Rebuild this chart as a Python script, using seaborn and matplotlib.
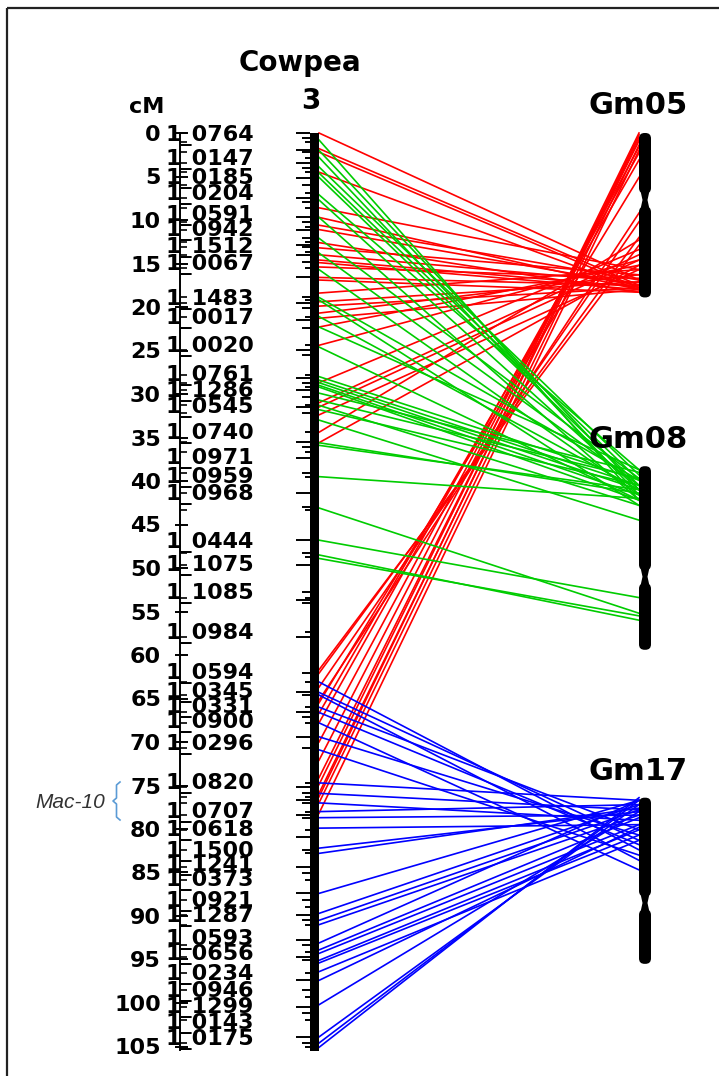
import matplotlib
matplotlib.use("Agg")
import matplotlib.pyplot as plt
from matplotlib.patches import FancyBboxPatch, Rectangle, Polygon
import numpy as np
import pandas as pd
import seaborn as sns

# ---------------- data ----------------
axis_ticks = list(range(0, 106, 5))

marker_names = ["1_0764", "1_0147", "1_0185", "1_0204", "1_0591", "1_0942", "1_1512", "1_0067",
                "1_1483", "1_0017", "1_0020", "1_0761", "1_1286", "1_0545", "1_0740", "1_0971",
                "1_0959", "1_0968", "1_0444", "1_1075", "1_1085", "1_0984", "1_0594", "1_0345",
                "1_0331", "1_0900", "1_0296", "1_0820", "1_0707", "1_0618", "1_1500", "1_1241",
                "1_0373", "1_0921", "1_1287", "1_0593", "1_0656", "1_0234", "1_0946", "1_1299",
                "1_0143", "1_0175"]
marker_label_pos = [0.0, 2.8, 4.9, 6.8, 9.2, 10.9, 12.9, 14.8, 18.9, 21.0, 24.3, 27.6, 29.4, 31.3,
                    34.3, 37.1, 39.3, 41.3, 46.8, 49.4, 52.6, 57.2, 61.8, 64.0, 65.7, 67.5, 70.0,
                    74.5, 77.8, 79.9, 82.3, 83.9, 85.6, 88.0, 89.8, 92.4, 94.1, 96.4, 98.4, 100.2,
                    102.1, 103.9]

marker_pos = [0.0, 0.6, 1.0, 2.0, 2.2, 2.9, 3.4, 4.0, 4.5, 5.2, 6.0, 6.9, 7.5, 7.9, 8.6, 9.7, 10.2,
              10.8, 11.1, 12.1, 12.5, 12.9, 13.1, 13.7, 14.0, 14.8, 15.5, 16.6, 18.9, 19.2, 19.5,
              20.1, 21.1, 21.5, 22.4, 24.4, 24.9, 25.5, 27.8, 28.2, 28.7, 29.2, 29.5, 30.3, 31.3,
              31.5, 32.2, 34.4, 35.5, 36.1, 36.7, 37.4, 39.1, 39.5, 41.4, 43.0, 43.3, 46.8, 48.3,
              48.7, 49.7, 52.8, 53.4, 53.7, 54.0, 57.4, 57.9, 62.1, 63.1, 64.3, 64.6, 66.0, 66.6,
              67.1, 67.8, 69.4, 70.7, 74.7, 75.2, 75.9, 76.3, 76.7, 77.0, 78.0, 78.4, 78.7, 80.1,
              80.9, 82.4, 82.8, 84.4, 85.1, 85.9, 87.4, 88.2, 89.0, 89.9, 90.5, 91.0, 92.8, 93.3,
              94.1, 94.7, 95.1, 96.6, 97.4, 98.5, 99.3, 100.5, 101.1, 102.0, 103.9, 104.6, 105.1]
cowpea_length = 105.5

# soybean chromosomes (top, centromere, bottom) on the shared vertical scale
gm_names = ["Gm05", "Gm08", "Gm17"]
gm_top = [0.0, 38.3, 76.4]
gm_cen = [7.7, 51.0, 88.5]
gm_bottom = [18.9, 59.4, 95.5]

# syntenic links: cowpea position -> soybean position
gm05_src = [0.0, 1.8, 2.2, 4.5, 8.6, 9.7, 10.6, 11.1, 12.6, 13.2, 14.0, 14.6, 14.9, 15.4, 16.6,
            16.9, 18.4, 19.4, 19.9, 20.7, 21.3, 22.3, 24.4, 28.7, 31.0, 31.5, 32.4, 34.4, 35.6,
            61.7, 62.1, 63.7, 65.2, 65.5, 66.7, 67.8, 70.0, 72.1, 74.1, 74.9, 75.9, 76.3, 77.0, 78.2]
gm05_dst = [16.9, 17.5, 17.8, 18.0, 15.7, 18.0, 16.9, 17.5, 18.3, 16.3, 17.2, 17.7, 18.0, 16.7, 17.5,
            18.3, 15.7, 17.1, 17.8, 16.3, 18.0, 15.2, 14.6, 13.4, 14.0, 14.6, 15.7, 12.3, 15.2,
            12.9, 12.0, 10.2, 9.2, 5.1, 3.1, 2.3, 1.6, 0.9, 0.5, 0.0, 0.8, 0.2, 1.4, 2.0]

gm08_src = [0.8, 2.0, 2.8, 3.9, 4.6, 5.1, 7.1, 7.7, 9.7, 12.1, 13.8, 15.7, 18.9, 19.2, 21.1, 22.3,
            24.6, 28.0, 28.4, 28.7, 29.0, 29.2, 29.9, 30.7, 31.3, 31.8, 33.0, 35.6, 35.9, 39.5,
            43.1, 46.8, 48.5, 48.9]
gm08_dst = [42.2, 41.0, 41.6, 39.3, 39.9, 40.5, 38.7, 41.0, 42.2, 39.7, 40.5, 41.6, 39.9, 42.8, 41.0,
            38.7, 42.2, 39.9, 40.5, 41.0, 41.6, 42.2, 39.0, 39.7, 42.8, 40.5, 44.5, 41.4, 41.0, 42.0,
            55.2, 53.4, 56.0, 55.5]

gm17_src = [63.1, 64.3, 64.6, 66.0, 66.6, 67.8, 69.4, 70.9, 74.7, 75.9, 77.0, 78.0, 78.7, 79.9,
            82.2, 82.8, 87.4, 89.7, 90.5, 91.0, 93.1, 93.9, 94.3, 95.1, 95.4, 96.4, 97.4, 100.2,
            103.9, 104.6, 105.1]
gm17_dst = [82.4, 81.3, 83.6, 80.1, 81.8, 84.7, 80.7, 83.0, 76.7, 77.8, 79.0, 77.2, 78.4, 79.5,
            78.0, 77.6, 76.7, 77.2, 77.8, 78.4, 76.7, 78.7, 79.5, 80.1, 80.7, 81.3, 79.8, 78.0,
            77.2, 76.7, 76.4]

link_colors = {"Gm05": "#FF0000", "Gm08": "#00CC00", "Gm17": "#0000FF"}

# ---------------- layout (pixel units horizontally, cM vertically) ----------------
W, H = 719, 1076
PX_PER_CM = 8.7
Y0 = 133


def cm(ypix):
    return (ypix - Y0) / PX_PER_CM


fig = plt.figure(figsize=(W / 100, H / 100), dpi=100)
ax = fig.add_axes([0, 0, 1, 1])

FONT = "DejaVu Sans"

# links via seaborn
rows = []
uid = 0
for name, src, dst in [("Gm05", gm05_src, gm05_dst), ("Gm08", gm08_src, gm08_dst),
                       ("Gm17", gm17_src, gm17_dst)]:
    for s, d in zip(src, dst):
        rows.append({"x": 319, "y": s, "uid": uid, "chrom": name})
        rows.append({"x": 639, "y": d, "uid": uid, "chrom": name})
        uid += 1
links = pd.DataFrame(rows)
sns.lineplot(data=links, x="x", y="y", hue="chrom", units="uid", estimator=None, sort=False,
             palette=link_colors, legend=False, lw=1.2, ax=ax, zorder=2)
ax.set_xlim(0, W)
ax.set_ylim(cm(H), cm(0))
ax.axis("off")

# frame
ax.add_patch(Rectangle((7, cm(8)), 740, cm(1100) - cm(8), fill=False, lw=1.6,
                       edgecolor="#222222", zorder=1))

# cowpea chromosome bar with marker ticks
ax.add_patch(Rectangle((310, 0), 9, cowpea_length, facecolor="black", edgecolor="none", zorder=3))
for i, p in enumerate(marker_pos):
    x_start = 296 if i % 3 == 0 else (302 if i % 3 == 1 else 305)
    ax.plot([x_start, 310], [p, p], color="black", lw=1.4, zorder=3, solid_capstyle="butt")

# ruler
ax.plot([180, 180], [0, 105.4], color="black", lw=1.4, zorder=3)
for t in axis_ticks:
    ax.plot([175, 188], [t, t], color="black", lw=1.4, zorder=3, solid_capstyle="butt")
    ax.text(161, t, str(t), ha="right", va="center_baseline", fontsize=16,
            fontweight="bold", family=FONT, zorder=4)
for p in marker_pos[::2]:
    ax.plot([180, 187], [p, p], color="black", lw=1.2, zorder=3, solid_capstyle="butt")

# marker labels
for name, p in zip(marker_names, marker_label_pos):
    ax.text(166, p, name, ha="left", va="center_baseline", fontsize=16,
            fontweight="bold", family=FONT, zorder=4)

# soybean chromosomes
cw = 12
cx = 639
gap = 0.75
for name, top, cen, bot in zip(gm_names, gm_top, gm_cen, gm_bottom):
    for a, b in [(top, cen - gap), (cen + gap, bot)]:
        ax.add_patch(FancyBboxPatch((cx, a), cw, b - a,
                                    boxstyle="round,pad=0,rounding_size=5.5",
                                    mutation_aspect=1 / PX_PER_CM,
                                    facecolor="black", edgecolor="none", zorder=3))
    ax.add_patch(Polygon([[cx + 1.5, cen - gap - 0.3], [cx + cw - 1.5, cen - gap - 0.3],
                          [cx + cw - 3.5, cen], [cx + cw - 1.5, cen + gap + 0.3],
                          [cx + 1.5, cen + gap + 0.3], [cx + 3.5, cen]],
                         closed=True, facecolor="black", edgecolor="none", zorder=3))

# titles
ax.text(300, cm(60), "Cowpea", ha="center", va="center_baseline", fontsize=20,
        fontweight="bold", family=FONT)
ax.text(311, cm(98), "3", ha="center", va="center_baseline", fontsize=20,
        fontweight="bold", family=FONT)
ax.text(147, cm(105), "cM", ha="center", va="center_baseline", fontsize=16,
        fontweight="bold", family=FONT)
for name, ypix in zip(gm_names, [103, 437, 768]):
    ax.text(638, cm(ypix), name, ha="center", va="center_baseline", fontsize=22,
            fontweight="bold", family=FONT, zorder=4)

# Mac-10 annotation
ax.text(105, cm(801), "Mac-10", ha="right", va="center_baseline", fontsize=15,
        style="italic", family="Liberation Sans", color="#333333")
bx = [120, 116.5, 116.5, 113, 116.5, 116.5, 120]
by = [cm(782), cm(785), cm(798), cm(801), cm(804), cm(817), cm(820)]
ax.plot(bx, by, color="#5B9BD5", lw=1.2)

fig.savefig("out.png", dpi=100)
